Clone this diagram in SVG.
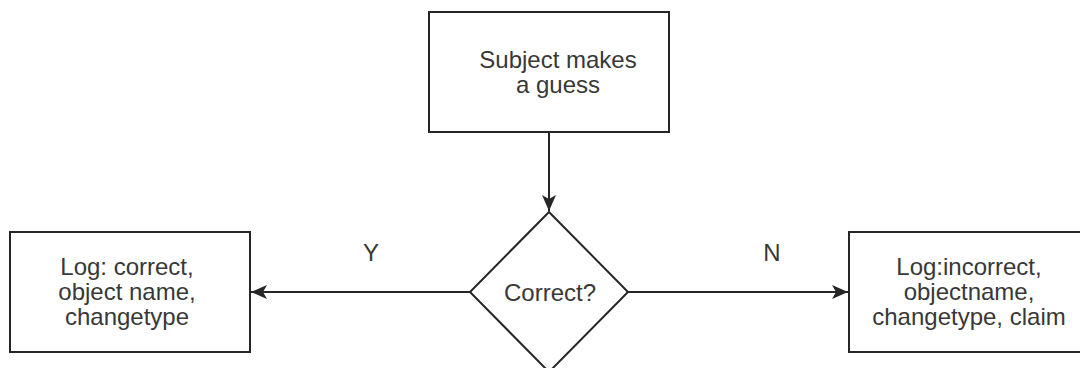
<svg xmlns="http://www.w3.org/2000/svg" width="1080" height="368" viewBox="0 0 1080 368">
  <style>
    .shape { fill: #ffffff; stroke: #262626; stroke-width: 2; }
    .edge { fill: none; stroke: #262626; stroke-width: 2; }
    .label { font-family: "Liberation Sans", Arial, sans-serif; font-size: 24px; fill: #383838; text-anchor: middle; }
  </style>
  <defs>
    <marker id="arrow" markerUnits="userSpaceOnUse" markerWidth="16" markerHeight="14" viewBox="0 0 16 14" refX="16" refY="7" orient="auto">
      <path d="M0,0 L16,7 L0,14 L4,7 Z" fill="#262626"/>
    </marker>
  </defs>
  <rect width="1080" height="368" fill="#ffffff"/>
  <g id="connectors">
    <path class="edge" d="M549,132 L549,211" marker-end="url(#arrow)"/>
    <path class="edge" d="M470,292 L251,292" marker-end="url(#arrow)"/>
    <path class="edge" d="M628,292 L848,292" marker-end="url(#arrow)"/>
    <text class="label" x="371" y="261">Y</text>
    <text class="label" x="772" y="261">N</text>
  </g>
  <g id="guess">
    <rect class="shape" x="429" y="12" width="240" height="120"/>
    <text class="label" x="558" y="68">Subject makes</text>
    <text class="label" x="558" y="93">a guess</text>
  </g>
  <g id="decision">
    <polygon class="shape" points="549,212 628,292 549,372 470,292"/>
    <text class="label" x="550" y="301">Correct?</text>
  </g>
  <g id="log-correct">
    <rect class="shape" x="10" y="232" width="240" height="120"/>
    <text class="label" x="127" y="275">Log: correct,</text>
    <text class="label" x="127" y="300">object name,</text>
    <text class="label" x="127" y="325">changetype</text>
  </g>
  <g id="log-incorrect">
    <rect class="shape" x="849" y="232" width="240" height="120"/>
    <text class="label" x="969" y="275">Log:incorrect,</text>
    <text class="label" x="969" y="300">objectname,</text>
    <text class="label" x="969" y="325">changetype, claim</text>
  </g>
</svg>
